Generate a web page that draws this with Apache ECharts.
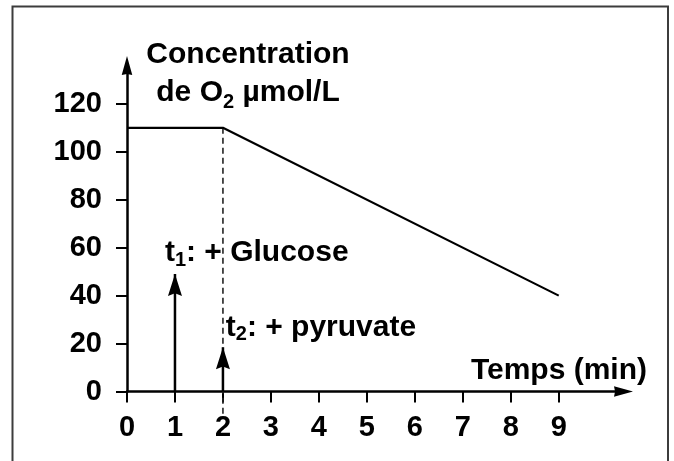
<!DOCTYPE html>
<html>
<head>
<meta charset="utf-8">
<script src="https://cdn.jsdelivr.net/npm/echarts@6/dist/echarts.min.js"></script>
<style>
html,body{margin:0;padding:0;background:#fff;}
#chart{width:674px;height:461px;}
</style>
</head>
<body>
<div id="chart"></div>
<script>
// ---- data ----
const timeMin = [0, 2, 9];
const o2Conc = [110, 110, 40];
const xTickValues = [0, 1, 2, 3, 4, 5, 6, 7, 8, 9];
const yTickValues = [0, 20, 40, 60, 80, 100, 120];
const injectionTimes = [1, 2];
const injectionArrowTops = [49, 18.5];
const injectionTags = ['1', '2'];
const injectionTexts = ['+ Glucose', '+ pyruvate'];
const injectionLabelAnchorX = [0.79, 2.06];
const injectionLabelAnchorY = [57.7, 26.5];
const dashedLineTime = 2;
const dashedLineFrom = 110;
const dashedLineTo = -10;
const xAxisName = 'Temps (min)';
const yAxisNameLine1 = 'Concentration';
const yAxisNameLine2 = 'de O{sub|2} µmol/L';

// ---- chart ----
const FONT = "'Liberation Sans', Arial, Helvetica, sans-serif";
const ARROW_HEAD = 'path://M10,0 L20,40 L10,35 L0,40 Z';
const AXIS_HEAD = 'path://M10,0 L20,36 L10,34 L0,36 Z';
const chart = echarts.init(document.getElementById('chart'), null, {renderer: 'canvas'});

const curveData = timeMin.map((t, i) => [t, o2Conc[i]]);

const arrowSeries = injectionTimes.map((t, i) => ({
  type: 'line',
  data: [
    {value: [t, 0], symbol: 'none'},
    {value: [t, injectionArrowTops[i]], symbol: ARROW_HEAD, symbolSize: [14, 22], symbolOffset: [0, 11]}
  ],
  lineStyle: {color: '#000', width: 2.5},
  itemStyle: {color: '#000', opacity: 1},
  showSymbol: true,
  silent: true,
  animation: false,
  z: 4
}));

const labelSeries = {
  type: 'scatter',
  symbolSize: 0,
  silent: true,
  animation: false,
  itemStyle: {color: '#000', opacity: 1},
  data: injectionTimes.map((t, i) => ({
    value: [injectionLabelAnchorX[i], injectionLabelAnchorY[i]],
    label: {
      show: true,
      position: [0, 0],
      align: 'left',
      verticalAlign: 'middle',
      formatter: 't{sub|' + injectionTags[i] + '}: ' + injectionTexts[i],
      fontFamily: FONT,
      fontWeight: 'bold',
      fontSize: 30,
      color: '#000',
      opacity: 1,
      textBorderWidth: 0,
      lineHeight: 34,
      rich: {
        sub: {fontFamily: FONT, fontWeight: 'bold', fontSize: 20, lineHeight: 20, verticalAlign: 'bottom', color: '#000'}
      }
    }
  }))
};

const option = {
  animation: false,
  backgroundColor: '#fff',
  grid: {left: 127, right: 50.5, top: 65.5, bottom: 69.5, containLabel: false, outerBoundsMode: 'none'},
  xAxis: {
    type: 'value',
    min: 0,
    max: 10.35,
    interval: 1,
    name: xAxisName,
    nameLocation: 'end',
    nameGap: 23.5,
    nameMoveOverlap: false,
    nameTextStyle: {fontFamily: FONT, fontWeight: 'bold', fontSize: 30, color: '#000', align: 'right', verticalAlign: 'bottom', padding: [0, 0, 6, 0]},
    axisLine: {show: true, lineStyle: {color: '#000', width: 2.5}, symbol: ['none', AXIS_HEAD], symbolSize: [15, 19]},
    axisTick: {show: true, length: 11, lineStyle: {color: '#000', width: 2}, customValues: xTickValues},
    axisLabel: {fontFamily: FONT, fontWeight: 'bold', fontSize: 29, color: '#000', margin: 22, customValues: xTickValues},
    splitLine: {show: false}
  },
  yAxis: {
    type: 'value',
    min: 0,
    max: 136,
    interval: 20,
    name: yAxisNameLine1 + '\n' + yAxisNameLine2,
    nameLocation: 'end',
    nameGap: 29.5,
    nameMoveOverlap: false,
    nameTextStyle: {
      fontFamily: FONT, fontWeight: 'bold', fontSize: 30, color: '#000',
      align: 'center', verticalAlign: 'top', lineHeight: 38,
      padding: [0, 0, 0, 242],
      rich: {
        sub: {fontFamily: FONT, fontWeight: 'bold', fontSize: 20, lineHeight: 20, verticalAlign: 'bottom', color: '#000'}
      }
    },
    axisLine: {show: true, lineStyle: {color: '#000', width: 2.5}, symbol: ['none', AXIS_HEAD], symbolSize: [16, 19]},
    axisTick: {show: true, length: 11, lineStyle: {color: '#000', width: 2}, customValues: yTickValues},
    axisLabel: {fontFamily: FONT, fontWeight: 'bold', fontSize: 29, color: '#000', margin: 25, customValues: yTickValues},
    splitLine: {show: false}
  },
  graphic: [{
    type: 'rect',
    shape: {x: 12.5, y: 6.5, width: 655.5, height: 470},
    style: {fill: 'none', stroke: '#3c3c3c', lineWidth: 2},
    silent: true,
    z: -1
  }],
  series: [
    {
      type: 'line',
      data: curveData,
      symbol: 'none',
      lineStyle: {color: '#000', width: 2.2},
      silent: true,
      z: 3
    },
    {
      type: 'line',
      data: [[dashedLineTime, dashedLineFrom], [dashedLineTime, dashedLineTo]],
      symbol: 'none',
      clip: false,
      lineStyle: {color: '#222', width: 1.6, type: [6, 4]},
      silent: true,
      z: 2
    },
    ...arrowSeries,
    labelSeries
  ]
};
chart.setOption(option);
</script>
</body>
</html>
